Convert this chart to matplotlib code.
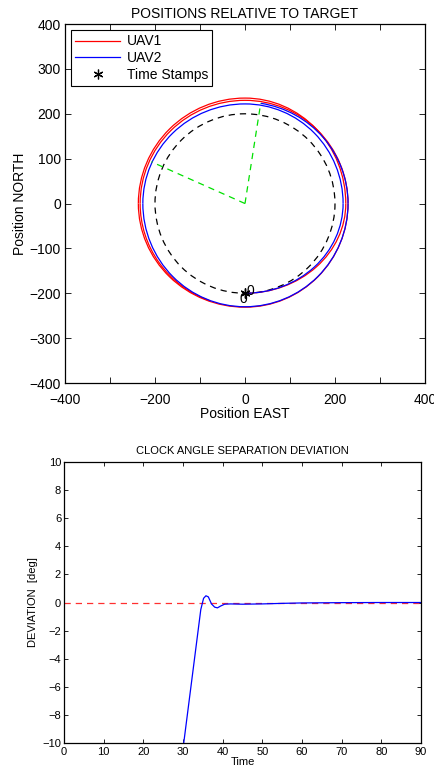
import numpy as np
import matplotlib
matplotlib.use('Agg')
import matplotlib.pyplot as plt
from matplotlib.patches import Arc, Circle
from matplotlib.lines import Line2D

plt.rcParams['font.family'] = ['Liberation Sans', 'DejaVu Sans']

# trajectory waypoints (alternating side / top-bottom crossings), relative to target
uav1_x = [0, 224, 0, -237, 0, 229, 0, -233, 0]
uav1_y = [-200, 0, 235, 0, -231, 0, 230, 0, -230]
uav1_end_deg = 250
uav2_x = [0, 218, 0, -227, 0, 229, 0]
uav2_y = [-200, 0, 222, 0, -230, 0, 226]
uav2_end_deg = 81

ref_radius = 200
stamp_x = [0, 0]
stamp_y = [-200, -200]
stamp_text = ['0', '0']
stamp_text_x = [4, -13]
stamp_text_y = [-195, -212]
sep_x = [35, -208]
sep_y = [224, 93]

# clock angle separation deviation
t = [0, 30.2, 34.5, 35.2, 35.8, 36.4, 37.2, 38.0, 38.7, 39.5, 40.5, 42, 45, 50, 55, 60, 70, 80, 90]
dev = [-70, -10, -0.5, 0.3, 0.48, 0.4, -0.1, -0.33, -0.38, -0.25, -0.12, -0.1, -0.12,
       -0.1, -0.06, -0.03, -0.01, 0, 0]


def draw_track(ax, xs, ys, end_deg, color):
    n = len(xs)
    for i in range(n - 1):
        x0, y0, x1, y1 = xs[i], ys[i], xs[i + 1], ys[i + 1]
        if y0 == 0:
            cx, cy = x1, y0
        else:
            cx, cy = x0, y1
        a1 = np.degrees(np.arctan2(y0 - cy, x0 - cx)) % 360
        a2 = np.degrees(np.arctan2(y1 - cy, x1 - cx)) % 360
        if a2 <= a1:
            a2 += 360
        if i == n - 2:
            a2 = a1 + ((end_deg - a1) % 360)
        w = 2 * max(abs(x0 - cx), abs(x1 - cx))
        h = 2 * max(abs(y0 - cy), abs(y1 - cy))
        ax.add_patch(Arc((cx, cy), w, h, theta1=a1, theta2=a2, color=color, lw=0.9))


fig = plt.figure(figsize=(4.35, 7.73), dpi=100)

ax = fig.add_axes([0.1494, 0.5045, 0.8276, 0.4644])
ax.add_patch(Circle((0, 0), ref_radius, fill=False, ls=(0, (5, 4)), color='k', lw=0.9))
for ex, ey in zip(sep_x, sep_y):
    ax.plot([0, ex], [0, ey], color='#00e000', ls=(0, (5, 4)), lw=0.9)
draw_track(ax, uav1_x, uav1_y, uav1_end_deg, 'red')
draw_track(ax, uav2_x, uav2_y, uav2_end_deg, 'blue')
ax.plot(stamp_x, stamp_y, ls='none', marker=(6, 2, 0), color='k', ms=7, mew=0.9)
for tx, ty, s in zip(stamp_text_x, stamp_text_y, stamp_text):
    ax.text(tx, ty, s, fontsize=10, ha='left', va='center')
ax.set_xlim(-400, 400)
ax.set_ylim(-400, 400)
ax.set_xticks(np.arange(-400, 401, 100))
ax.set_yticks(np.arange(-400, 401, 100))
ax.set_xticklabels(['−400', '', '−200', '', '0', '', '200', '', '400'])
ax.tick_params(direction='in', top=True, right=True, labelsize=10, length=4, width=0.6, pad=3)
ax.tick_params(axis='x', pad=7)
ax.set_title('POSITIONS RELATIVE TO TARGET', fontsize=10, pad=4)
ax.set_xlabel('Position EAST', fontsize=10, labelpad=0)
ax.set_ylabel('Position NORTH', fontsize=10, labelpad=2)
for sp in ax.spines.values():
    sp.set_linewidth(0.9)
handles = [Line2D([], [], color='red', lw=0.9),
           Line2D([], [], color='blue', lw=0.9),
           Line2D([], [], ls='none', marker=(6, 2, 0), color='k', ms=7, mew=0.9)]
leg = ax.legend(handles, ['UAV1', 'UAV2', 'Time Stamps'], loc='upper left', fontsize=10,
                fancybox=False, edgecolor='k', framealpha=1, handlelength=3.2,
                borderaxespad=0.45, borderpad=0.3, labelspacing=0.2, handletextpad=0.5)
leg.get_frame().set_linewidth(0.8)

ax2 = fig.add_axes([0.147, 0.0388, 0.8207, 0.3635])
ax2.plot([0, 90], [0, 0], color='#ff3030', ls=(0, (5, 4)), lw=0.9)
ax2.plot(t, dev, color='blue', lw=0.9)
ax2.set_xlim(0, 90)
ax2.set_ylim(-10, 10)
ax2.set_xticks(np.arange(0, 91, 10))
ax2.set_yticks(np.arange(-10, 11, 2))
ax2.tick_params(direction='in', top=True, right=True, labelsize=8, length=3, width=0.6, pad=2)
ax2.tick_params(axis='x', pad=3)
ax2.set_title('CLOCK ANGLE SEPARATION DEVIATION', fontsize=8, pad=6)
ax2.set_xlabel('Time', fontsize=8, labelpad=0)
ax2.set_ylabel('DEVIATION  [deg]', fontsize=8, labelpad=3)
for sp in ax2.spines.values():
    sp.set_linewidth(0.9)

fig.savefig('out.png', dpi=100)
